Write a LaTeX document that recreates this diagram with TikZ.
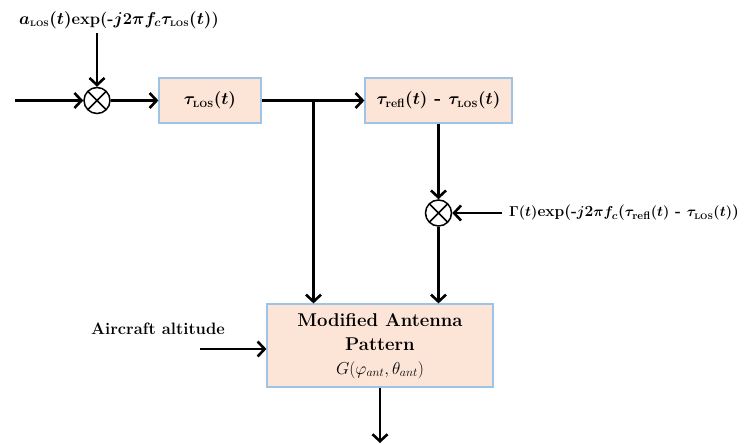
\documentclass[tikz,border=0pt]{standalone}
\usetikzlibrary{arrows.meta, positioning}
\definecolor{boxFill}{HTML}{FCE4D6}
\definecolor{boxEdge}{HTML}{9DC3E6}
\tikzset{
  sigline/.style  = {-{Straight Barb[length=7pt, width=15pt, line width=2.6pt]}, line width=2.8pt, black},
  blockbox/.style = {draw=boxEdge, fill=boxFill, line width=1.2pt, inner sep=0pt,
                     font=\fontsize{18.5}{24}\selectfont\bfseries\boldmath},
  mixer/.style    = {circle, draw, line width=1.5pt, minimum size=26pt, inner sep=0pt,
                     path picture={\draw[line width=1.5pt]
                       (path picture bounding box.north west) -- (path picture bounding box.south east)
                       (path picture bounding box.north east) -- (path picture bounding box.south west);}},
  lbl/.style      = {font=\fontsize{16.5}{19}\selectfont\bfseries\boldmath, inner sep=0pt},
}
\newcommand{\subLos}{\mathrm{\scriptscriptstyle LOS}}
\newcommand{\subRefl}{\mathrm{refl}}

\begin{document}
\begin{tikzpicture}[x=1pt, y=-1pt]
  \useasboundingbox (0,0) rectangle (756,445);

  % blocks
  \node[blockbox, minimum width=102pt, minimum height=45pt] (delayLos) at (210,100.5) {$\tau_{\subLos}(t)$};
  \node[blockbox, minimum width=147pt, minimum height=45pt] (delayRefl) at (438.5,100.5) {$\tau_{\subRefl}(t)$ - $\tau_{\subLos}(t)$};
  \node[blockbox, minimum width=226pt, minimum height=83pt] (antPat) at (380,345.5)
    {\begin{tabular}{@{}c@{}}Modified Antenna\\ Pattern\\ {\mdseries\mathversion{normal}$G(\varphi_{ant},\theta_{ant})$}\end{tabular}};

  % multipliers
  \node[mixer] (mixLos) at (97,100.5) {};
  \node[mixer] (mixRefl) at (438.5,213) {};

  % labels
  \node[lbl] (gainLos) at (119,20) {$a_{\subLos}(t)$exp(-$j$2$\pi f_c\tau_{\subLos}(t)$)};
  \node[lbl, font=\fontsize{15.5}{18}\selectfont\bfseries\boldmath, anchor=west] (gainRefl) at (509,213)
    {$\Gamma(t)$exp(-$j$2$\pi f_c$($\tau_{\subRefl}(t)$ - $\tau_{\subLos}(t)$)};
  \node[lbl] (altLbl) at (158,329) {Aircraft altitude};

  \coordinate (inSig) at (15,100.5);
  \coordinate (altIn) at (200,349);
  \coordinate (outSig) at (380,443);
  \coordinate (branch) at (313.5,100.5);
  \coordinate (gainLosEnd) at (97,33);
  \coordinate (gainReflEnd) at (502,213);

  % connectors
  \draw[sigline] (inSig) -- (mixLos);
  \draw[sigline] (gainLosEnd) -- (mixLos);
  \draw[sigline] (mixLos) -- (delayLos);
  \draw[sigline] (delayLos) -- (delayRefl);
  \draw[sigline] (branch) -- (branch |- antPat.north);
  \draw[sigline] (delayRefl) -- (mixRefl);
  \draw[sigline] (gainReflEnd) -- (mixRefl);
  \draw[sigline] (mixRefl) -- (mixRefl |- antPat.north);
  \draw[sigline] (altIn) -- (altIn -| antPat.west);
  \draw[sigline] (antPat) -- (outSig);
\end{tikzpicture}
\end{document}
